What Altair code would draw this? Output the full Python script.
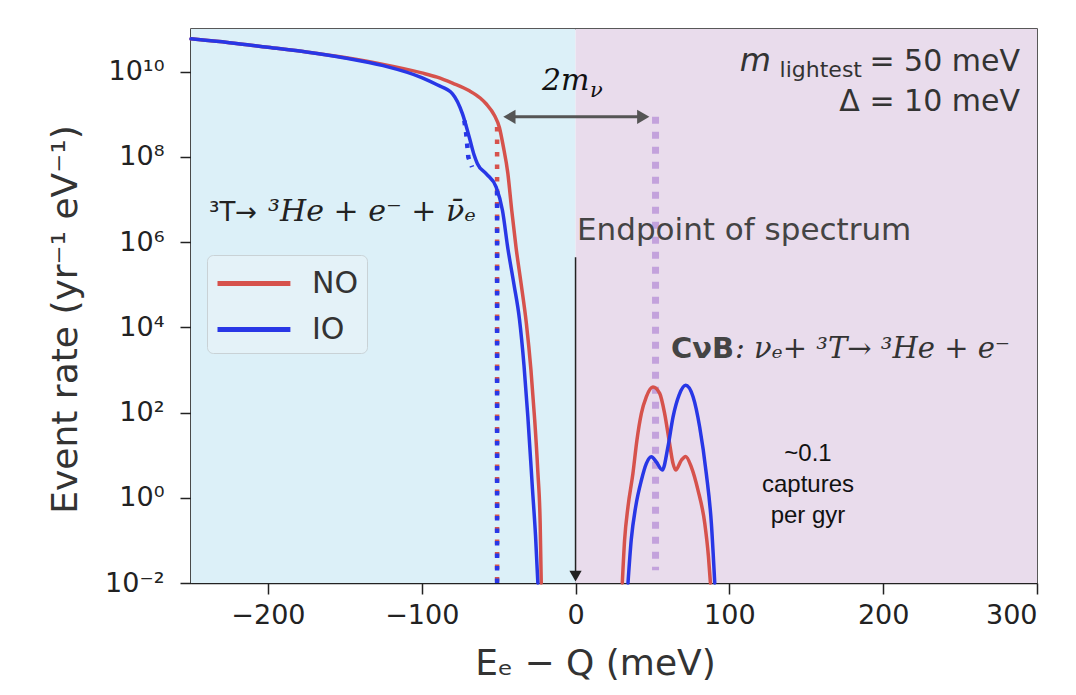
import json
import altair as alt
import pandas as pd

# ---------------- values ----------------
x_ticks = [-200, -100, 0, 100, 200, 300]
y_ticks = [1e-2, 1e0, 1e2, 1e4, 1e6, 1e8, 1e10]
y_tick_labels = ["10⁻²", "10⁰", "10²", "10⁴", "10⁶", "10⁸", "10¹⁰"]

regions = ["beta", "cnb"]
region_lo = [-250, 0]
region_hi = [0, 300]

series_names = ["NO", "IO"]

# tritium beta spectrum (x in meV, rate as power of ten)
no_beta_x = [-250, -225, -200, -175, -150, -125, -100, -90, -80, -69, -62, -58, -52.7, -49.5,
             -47, -44, -41.5, -38.6, -35.5, -32, -29, -26.7, -24.5, -23, -22.3]
no_beta_exp = [10.77, 10.68, 10.57, 10.46, 10.33, 10.17, 9.97, 9.87, 9.73, 9.55, 9.38, 9.24, 8.97, 8.69,
               8.25, 7.61, 6.75, 5.85, 5.05, 4.1, 3.0, 1.9, 0.6, -0.6, -2]
io_beta_x = [-250, -225, -200, -175, -150, -125, -100, -90, -80, -73.5, -69, -66, -63.8, -58, -51.6,
             -47.5, -44, -40, -36.5, -33.5, -31, -28, -26, -24.5]
io_beta_exp = [10.77, 10.68, 10.57, 10.46, 10.32, 10.14, 9.86, 9.69, 9.48, 9.01, 8.45, 8.05, 7.84, 7.6, 7.29,
               6.74, 5.85, 5.0, 4.2, 3.1, 1.9, 0.2, -0.9, -2]

# relic neutrino capture peaks
no_cnb_x = [30.4, 31.9, 34.1, 37.3, 39.9, 42.8, 46.0, 50.3, 54.7, 57.9, 60.8, 63.4, 65.1, 68.8, 71.6,
            75.3, 79.6, 84.0, 86.4, 87.7]
no_cnb_exp = [-2, -0.99, -0.21, 0.57, 1.35, 1.98, 2.37, 2.6, 2.45, 1.98, 1.35, 0.8, 0.65, 0.88, 0.97,
              0.72, 0.18, -0.6, -1.38, -2]
io_cnb_x = [34.1, 36.2, 39.1, 42.8, 46.0, 49.3, 52.5, 56.4, 60.1, 63.4, 67.3, 71.6, 76.4, 80.7, 85.0, 88.3, 90.5]
io_cnb_exp = [-2, -0.99, -0.21, 0.41, 0.8, 0.96, 0.84, 0.65, 1.2, 1.9, 2.41, 2.64, 2.37, 1.66, 0.57, -0.6, -2]

# dotted single-mass endpoints
no_cut_x = [-51, -51]
no_cut_exp = [8.7, -2]
io_cut_x = [-51, -51]
io_cut_exp = [7.2, -2]
io_cut2_x = [-72.3, -71.2, -70.5, -69.7, -67.3]
io_cut2_exp = [8.85, 8.58, 8.31, 7.99, 7.76]
cnb_mark_x = [52, 52]
cnb_mark_exp = [8.94, -1.7]

# ---------------- styles ----------------
RED = "#d6524c"
BLUE = "#2837e6"
PURPLE_DOT = "#c3a2dc"
BG_BLUE = "#dcf0f8"
BG_PURPLE = "#e9dcec"
W, H = 846, 554


def table(xs, exps, series=None, seg=None):
    return pd.DataFrame({"x": xs, "rate": [10.0 ** e for e in exps],
                         "series": series, "segment": seg})


X_SCALE = alt.Scale(domain=[-250, 300], nice=False, zero=False)
Y_SCALE = alt.Scale(type="log", domain=[1e-2, 1e11], nice=False)

label_expr = json.dumps(y_tick_labels) + "[round(log(datum.value)/LN10/2)+1]"

x_enc = alt.X("x:Q", scale=X_SCALE,
              axis=alt.Axis(values=x_ticks, title="Eₑ − Q (meV)", titleX=404, titleY=91,
                            titleBaseline="alphabetic", titleAlign="center"))
y_enc = alt.Y("rate:Q", scale=Y_SCALE,
              axis=alt.Axis(values=y_ticks, labelExpr=label_expr, title="Event rate (yr⁻¹ eV⁻¹)",
                            titleX=-115, titleY=290, titleAngle=-90, titleBaseline="alphabetic",
                            titleAlign="center", labelPadding=16))

# background regions
reg_df = pd.DataFrame({"region": regions, "lo": region_lo, "hi": region_hi})
bg = alt.Chart(reg_df).mark_rect(opacity=1).encode(
    x=alt.X("lo:Q", scale=X_SCALE),
    x2="hi:Q",
    fill=alt.Fill("region:N", scale=alt.Scale(domain=regions, range=[BG_BLUE, BG_PURPLE]), legend=None),
)

color_scale = alt.Scale(domain=series_names, range=[RED, BLUE])
legend = alt.Legend(orient="none", legendX=16, legendY=226, title=None, symbolType="M-1,0H3.05",
                    symbolSize=1296, symbolStrokeWidth=5, labelFontSize=30, labelFont="DejaVu Sans",
                    labelColor="#333", fillColor="#e4f2f8", strokeColor="#c9d2d6", cornerRadius=6,
                    padding=8, rowPadding=10, labelOffset=56, symbolFillColor="transparent")


def curve(df):
    return alt.Chart(df).mark_line(strokeWidth=3.5, interpolate="monotone", strokeCap="round").encode(
        x=x_enc, y=y_enc,
        color=alt.Color("series:N", scale=color_scale, legend=legend),
        detail="segment:N",
    )


no_df = pd.concat([table(no_beta_x, no_beta_exp, "NO", "beta"), table(no_cnb_x, no_cnb_exp, "NO", "cnb")])
io_df = pd.concat([table(io_beta_x, io_beta_exp, "IO", "beta"), table(io_cnb_x, io_cnb_exp, "IO", "cnb")])


def dotted(df, color, width, dash):
    return alt.Chart(df).mark_line(color=color, strokeWidth=width, strokeDash=dash, strokeCap="butt").encode(
        x=alt.X("x:Q", scale=X_SCALE), y=alt.Y("rate:Q", scale=Y_SCALE))


purple_line = dotted(table(cnb_mark_x, cnb_mark_exp), PURPLE_DOT, 7, [7, 8])
no_cut = dotted(table(no_cut_x, no_cut_exp), RED, 4.5, [4.5, 8])
io_cut = dotted(table(io_cut_x, io_cut_exp), BLUE, 4.5, [4.5, 8])
io_cut2 = dotted(table(io_cut2_x, io_cut2_exp), BLUE, 4.5, [4.5, 7])

one = pd.DataFrame({"k": [0]})

# 2 m_nu double arrow
arrow_line = alt.Chart(one).mark_rule(color="#555", strokeWidth=3).encode(
    x=alt.datum(-43), x2=alt.datum(44), y=alt.datum(8.7e8))
arrow_l = alt.Chart(one).mark_point(shape="triangle-left", filled=True, color="#555", size=200, opacity=1).encode(
    x=alt.datum(-43), y=alt.datum(8.7e8))
arrow_r = alt.Chart(one).mark_point(shape="triangle-right", filled=True, color="#555", size=200, opacity=1).encode(
    x=alt.datum(44), y=alt.datum(8.7e8))

# endpoint arrow
end_line = alt.Chart(one).mark_rule(color="#222", strokeWidth=1.5).encode(
    x=alt.datum(0), y=alt.datum(4.4e5), y2=alt.datum(0.015))
end_head = alt.Chart(one).mark_point(shape="triangle-down", filled=True, color="#222", size=150, opacity=1).encode(
    x=alt.datum(0), y=alt.datum(0.0145))


def txt(s, x, y, size, font="DejaVu Sans", align="left", style="normal", weight="normal", color="#333"):
    return alt.Chart(one).mark_text(text=s, align=align, baseline="alphabetic", fontSize=size, font=font,
                                    fontStyle=style, fontWeight=weight, color=color).encode(
        x=alt.value(x), y=alt.value(y))


texts = [
    txt("= 50 meV", 829, 42, 30, align="right"),
    txt("lightest", 671, 48, 22, align="right"),
    txt("m", 580, 42, 32, align="right", style="italic"),
    txt("Δ = 10 meV", 829, 82, 30, align="right"),
    txt("2m", 351, 61, 30, font="DejaVu Serif", style="italic", color="#111"),
    txt("ν", 399, 68, 21, font="DejaVu Serif", style="italic", color="#111"),
    txt("³T→", 18, 192, 26, color="#222"),
    txt("³He + e⁻ + ν̄ₑ", 77, 192, 30, font="DejaVu Serif", style="italic", color="#222"),
    txt("Endpoint of spectrum", 386, 211, 31, color="#444"),
    txt("CνB", 480, 329, 29, weight="bold", color="#444"),
    txt(": νₑ+ ³T→ ³He + e⁻", 544, 329, 29, font="DejaVu Serif", style="italic", color="#333"),
    txt("~0.1", 617, 432, 24, font="Liberation Sans", align="center", color="#111"),
    txt("captures", 617, 463, 24, font="Liberation Sans", align="center", color="#111"),
    txt("per gyr", 617, 494, 24, font="Liberation Sans", align="center", color="#111"),
]

chart = alt.layer(
    bg, purple_line, curve(no_df), no_cut, curve(io_df), io_cut, io_cut2,
    arrow_line, arrow_l, arrow_r, end_line, end_head, *texts
).properties(
    width=W, height=H,
    padding={"left": 183, "top": 21, "right": 30, "bottom": 104},
    autosize=alt.AutoSizeParams(type="none"),
    background="white",
).configure_view(
    stroke="#222", strokeWidth=1.5
).configure_axis(
    labelFont="DejaVu Sans", labelFontSize=27, labelColor="#222", tickColor="#222", tickSize=11,
    tickWidth=1.5, domainColor="#222", domainWidth=1.5, labelPadding=8, grid=False,
    titleFont="DejaVu Sans", titleFontSize=36, titleFontWeight="normal", titleColor="#333", zindex=1,
)

chart.save("out.html", embed_options={"renderer": "svg", "actions": False})
